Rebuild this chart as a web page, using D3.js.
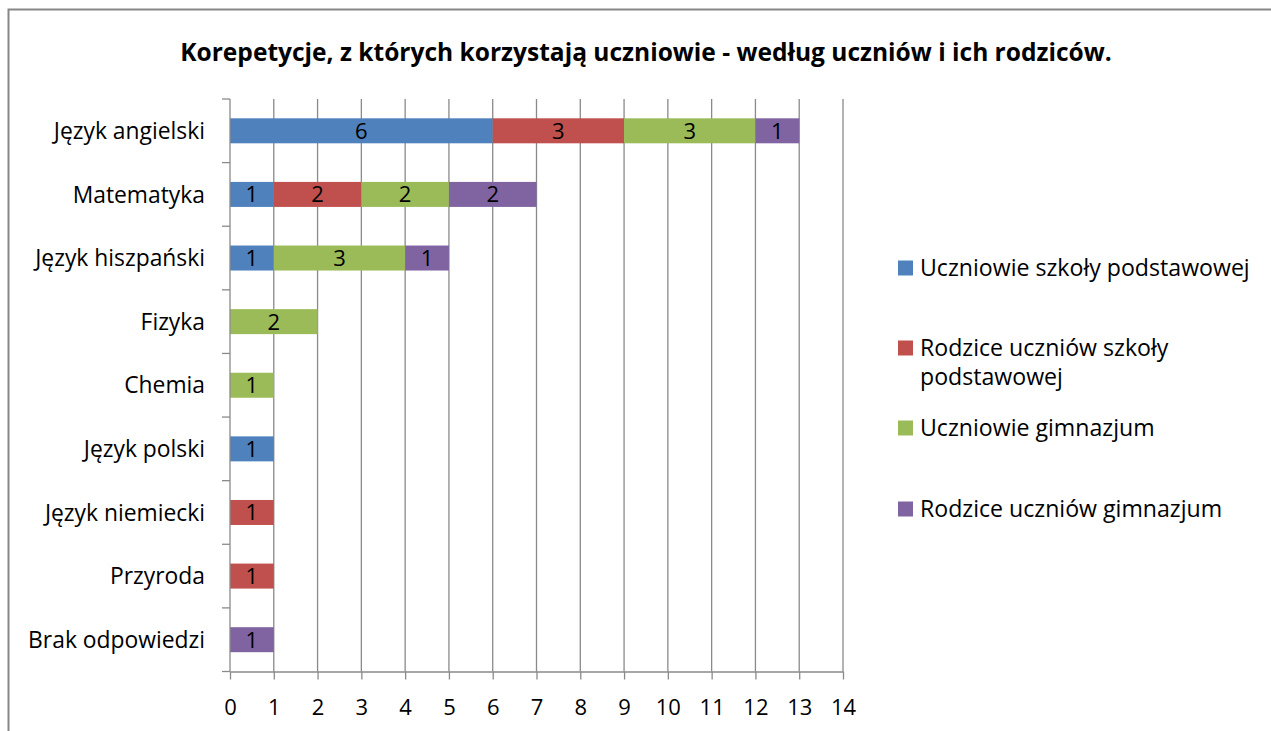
<!DOCTYPE html>
<html><head><meta charset="utf-8">
<script src="https://cdn.jsdelivr.net/npm/d3@7"></script>
<style>
html,body{margin:0;padding:0;background:#fff;}
svg{display:block;font-family:"Open Sans",Lato,sans-serif;}
</style></head>
<body><svg id="chart" width="1271" height="731"></svg>
<script>
const title = "Korepetycje, z których korzystają uczniowie - według uczniów i ich rodziców.";
const categories = ["Język angielski","Matematyka","Język hiszpański","Fizyka","Chemia","Język polski","Język niemiecki","Przyroda","Brak odpowiedzi"];
const seriesNames = ["Uczniowie szkoły podstawowej","Rodzice uczniów szkoły podstawowej","Uczniowie gimnazjum","Rodzice uczniów gimnazjum"];
const legendLines = [["Uczniowie szkoły podstawowej"],["Rodzice uczniów szkoły","podstawowej"],["Uczniowie gimnazjum"],["Rodzice uczniów gimnazjum"]];
const uczniowieSP = [6,1,1,0,0,1,0,0,0];
const rodziceSP   = [3,2,0,0,0,0,1,1,0];
const uczniowieG  = [3,2,3,2,1,0,0,0,0];
const rodziceG    = [1,2,1,0,0,0,0,0,1];
const xTicks = [0,1,2,3,4,5,6,7,8,9,10,11,12,13,14];
const colors = ["#4F81BD","#C0504D","#9BBB59","#8064A2"];

const seriesValues = [uczniowieSP, rodziceSP, uczniowieG, rodziceG];
const rows = categories.map((c,i)=>{const o={cat:c}; seriesNames.forEach((s,j)=>o[s]=seriesValues[j][i]); return o;});
const stacked = d3.stack().keys(seriesNames)(rows);

const svg = d3.select("#chart");
const pLeft = 230, pRight = 843, pTop = 99, pBottom = 671.5;
const x = d3.scaleLinear().domain([0,14]).range([pLeft,pRight]);
const y = d3.scaleBand().domain(categories).range([pTop,pBottom]).paddingInner(0.607).paddingOuter(0.3035);
const grid = "#8a8a8a";

function fitSize(sample, target, weight){
  const t = svg.append("text").attr("font-size",20).attr("font-weight",weight||"normal").text(sample);
  const w = t.node().getComputedTextLength(); t.remove();
  return 20*target/w;
}
const titleSize = fitSize(title, 932, "bold");
const catSize = fitSize("Brak odpowiedzi", 177);
const legSize = fitSize("Uczniowie szkoły podstawowej", 330);
const numSize = 22;

// outer border
svg.append("path").attr("d","M8.5,731 V9.5 H1271").attr("fill","none").attr("stroke","#878787").attr("stroke-width",2);

// title
svg.append("text").attr("x",646).attr("y",52).attr("dy","0.36em").attr("text-anchor","middle")
  .attr("font-size",titleSize).attr("font-weight","bold").attr("fill","#000").text(title);

// gridlines
svg.append("g").selectAll("line").data(xTicks.slice(1)).join("line")
  .attr("x1",d=>x(d)).attr("x2",d=>x(d)).attr("y1",pTop).attr("y2",pBottom)
  .attr("stroke",grid).attr("stroke-width",1.3);

// bars
const g = svg.append("g");
stacked.forEach((s,si)=>{
  g.append("g").selectAll("rect").data(s.filter(d=>d[1]-d[0]>0)).join("rect")
    .attr("x",d=>x(d[0])).attr("width",d=>x(d[1])-x(d[0]))
    .attr("y",d=>y(d.data.cat)).attr("height",y.bandwidth())
    .attr("fill",colors[si]);
  g.append("g").selectAll("text").data(s.filter(d=>d[1]-d[0]>0)).join("text")
    .attr("x",d=>(x(d[0])+x(d[1]))/2).attr("y",d=>y(d.data.cat)+y.bandwidth()/2)
    .attr("dy","0.36em").attr("text-anchor","middle").attr("font-size",numSize).attr("fill","#000")
    .text(d=>d[1]-d[0]);
});

// x axis
const xAxis = svg.append("g").attr("transform",`translate(0,${pBottom})`)
  .call(d3.axisBottom(x).tickValues(xTicks).tickSize(8).tickPadding(20).tickSizeOuter(0));
xAxis.select(".domain").attr("stroke",grid).attr("stroke-width",1.3);
xAxis.selectAll(".tick line").attr("stroke",grid).attr("stroke-width",1.3);
xAxis.selectAll("text").attr("font-size",numSize).attr("fill","#000").attr("font-family","Open Sans");

// y axis
svg.append("line").attr("x1",pLeft).attr("x2",pLeft).attr("y1",pTop).attr("y2",pBottom).attr("stroke",grid).attr("stroke-width",1.3);
const step = y.step();
const bounds = d3.range(categories.length+1).map(i=>pTop+i*step);
svg.append("g").selectAll("line").data(bounds).join("line")
  .attr("x1",pLeft-8).attr("x2",pLeft).attr("y1",d=>d).attr("y2",d=>d)
  .attr("stroke",grid).attr("stroke-width",1.3);
svg.append("g").selectAll("text").data(categories).join("text")
  .attr("x",205).attr("y",d=>y(d)+y.bandwidth()/2).attr("dy","0.36em")
  .attr("text-anchor","end").attr("font-size",catSize).attr("fill","#000").text(d=>d);

// legend
const legendY = [268,348,428,509];
const lg = svg.append("g");
legendLines.forEach((lines,i)=>{
  lg.append("rect").attr("x",898).attr("y",legendY[i]-7.5).attr("width",15).attr("height",15).attr("fill",colors[i]);
  lines.forEach((t,k)=>{
    lg.append("text").attr("x",920).attr("y",legendY[i]+k*29).attr("dy","0.36em")
      .attr("font-size",legSize).attr("fill","#000").text(t);
  });
});
</script></body></html>
